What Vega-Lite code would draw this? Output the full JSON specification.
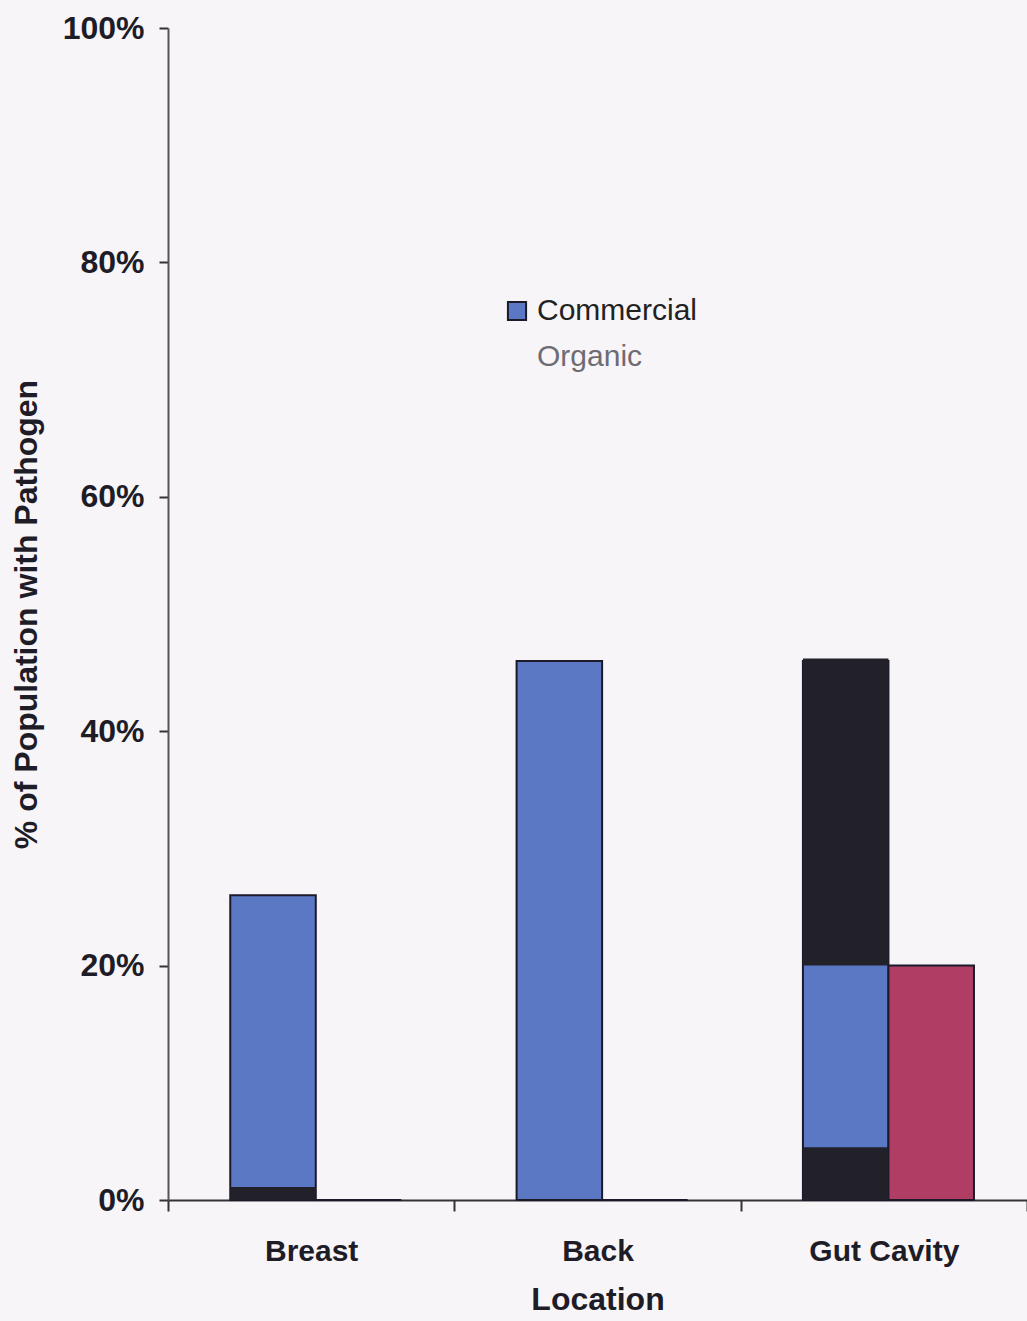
{
  "$schema": "https://vega.github.io/schema/vega-lite/v6.json",
  "width": 859,
  "height": 1172,
  "autosize": {"type": "none"},
  "padding": {"left": 168, "top": 28, "right": 0, "bottom": 121},
  "background": "#f7f5f8",
  "config": {"view": {"stroke": null}, "font": "Liberation Sans"},
  "datasets": {
    "bars": [
      {"location": "Breast", "type": "Commercial", "pct": 0.26},
      {"location": "Breast", "type": "Organic", "pct": 0},
      {"location": "Back", "type": "Commercial", "pct": 0.46},
      {"location": "Back", "type": "Organic", "pct": 0},
      {"location": "Gut Cavity", "type": "Commercial", "pct": 0.46},
      {"location": "Gut Cavity", "type": "Organic", "pct": 0.2}
    ],
    "dark": [
      {"location": "Breast", "type": "Commercial", "lo": 0, "hi": 0.011},
      {"location": "Gut Cavity", "type": "Commercial", "lo": 0, "hi": 0.045},
      {"location": "Gut Cavity", "type": "Commercial", "lo": 0.2, "hi": 0.462}
    ]
  },
  "encoding": {
    "x": {
      "field": "location",
      "type": "nominal",
      "sort": ["Breast", "Back", "Gut Cavity"],
      "scale": {"paddingInner": 0, "paddingOuter": 0},
      "axis": {
        "title": "Location",
        "labelAngle": 0,
        "tickBand": "extent",
        "labelFont": "Liberation Sans",
        "labelFontSize": 30,
        "labelFontWeight": "bold",
        "labelColor": "#1e1c26",
        "labelPadding": 25,
        "tickSize": 11,
        "tickColor": "#333",
        "tickWidth": 2,
        "domainColor": "#333",
        "domainWidth": 2,
        "titleFont": "Liberation Sans",
        "titleFontSize": 32,
        "titleFontWeight": "bold",
        "titleColor": "#1e1c26",
        "titlePadding": 18
      }
    },
    "xOffset": {
      "field": "type",
      "sort": ["Commercial", "Organic"],
      "scale": {"paddingInner": 0, "paddingOuter": 0.674, "align": 0.54}
    }
  },
  "layer": [
    {
      "data": {"name": "bars"},
      "mark": {"type": "bar", "stroke": "#1c1a28", "strokeWidth": 2},
      "encoding": {
        "y": {
          "field": "pct",
          "type": "quantitative",
          "scale": {"domain": [0, 1]},
          "axis": {
            "title": "% of Population with Pathogen",
            "values": [0, 0.2, 0.4, 0.6, 0.8, 1],
            "format": ".0%",
            "grid": false,
            "labelFont": "Liberation Sans",
            "labelFontSize": 32,
            "labelFontWeight": "bold",
            "labelColor": "#1e1c26",
            "labelPadding": 15,
            "tickSize": 9,
            "tickColor": "#333",
            "tickWidth": 2,
            "domainColor": "#555",
            "domainWidth": 2,
            "titleFont": "Liberation Sans",
            "titleFontSize": 32,
            "titleFontWeight": "bold",
            "titleColor": "#1e1c26",
            "titlePadding": 19
          }
        },
        "color": {
          "field": "type",
          "type": "nominal",
          "scale": {"domain": ["Commercial", "Organic"], "range": ["#5b78c4", "#b03d63"]},
          "legend": {
            "title": null,
            "orient": "none",
            "legendX": 334,
            "legendY": 268,
            "symbolType": "square",
            "symbolSize": 330,
            "symbolStrokeColor": "#1c1a28",
            "symbolStrokeWidth": 2,
            "symbolOpacity": 1,
            "labelFont": "Liberation Sans",
            "labelFontSize": 30,
            "labelColor": "#222",
            "labelOffset": 5,
            "labelLimit": 400,
            "rowPadding": 16,
            "encode": {
              "symbols": {"update": {"opacity": {"signal": "datum.value === 'Organic' ? 0 : 1"}}},
              "labels": {"update": {"fill": {"signal": "datum.value === 'Organic' ? '#6e6c73' : '#222'"}}}
            }
          }
        }
      }
    },
    {
      "data": {"name": "dark"},
      "mark": {"type": "bar", "color": "#222029"},
      "encoding": {
        "y": {"field": "lo", "type": "quantitative"},
        "y2": {"field": "hi"}
      }
    }
  ]
}
